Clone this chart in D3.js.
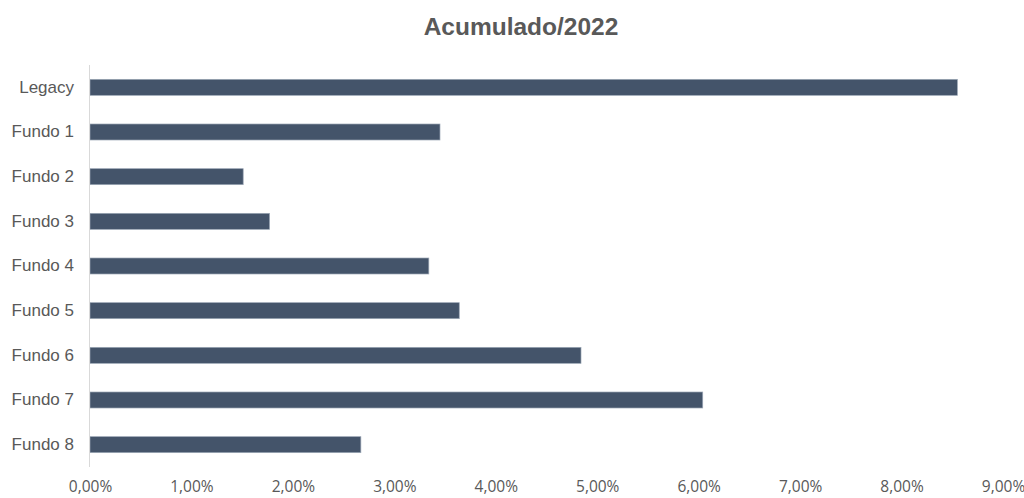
<!DOCTYPE html>
<html>
<head>
<meta charset="utf-8">
<script src="https://cdn.jsdelivr.net/npm/d3@7"></script>
<style>
  body { margin: 0; background: #fff; }
</style>
</head>
<body>
<div id="chart"></div>
<script>
// Acumulado/2022 - horizontal bars

const categories = ["Legacy", "Fundo 1", "Fundo 2", "Fundo 3", "Fundo 4", "Fundo 5", "Fundo 6", "Fundo 7", "Fundo 8"];
const values = [8.55, 3.45, 1.51, 1.77, 3.34, 3.64, 4.84, 6.04, 2.67];
const xTicks = [0, 1, 2, 3, 4, 5, 6, 7, 8, 9];

const width = 1024,
    height = 498,
    margin = ({ top: 65, right: 21, bottom: 31, left: 90 });

const svg = d3.select("#chart")
  .append("svg")
  .attr("width", width)
  .attr("height", height)
  .attr("viewBox", [0, 0, width, height]);

const x = d3.scaleLinear()
  .domain([0, 9])
  .range([margin.left, width - margin.right]);

const y = d3.scaleBand()
  .domain(categories)
  .range([margin.top, height - margin.bottom])
  .paddingInner(0.642)
  .paddingOuter(0.321);

// title
svg.append("text")
  .attr("x", 521)
  .attr("y", 35)
  .attr("text-anchor", "middle")
  .attr("font-family", "Liberation Sans, Arial, sans-serif")
  .attr("font-size", 24.5)
  .attr("font-weight", "bold")
  .attr("fill", "#595959")
  .text("Acumulado/2022");

// bars
svg.append("g")
  .selectAll("rect")
  .data(values)
  .join("rect")
  .attr("x", x(0))
  .attr("y", (d, i) => y(categories[i]))
  .attr("width", d => x(d) - x(0))
  .attr("height", y.bandwidth())
  .attr("fill", "#44546a")
  .attr("stroke", "#9aa5b4")
  .attr("stroke-width", 0.7);

// y axis (labels only, line drawn separately)
const yAxis = svg.append("g")
  .attr("transform", `translate(${x(0)},0)`)
  .call(d3.axisLeft(y).tickSize(0).tickPadding(16));
yAxis.select(".domain").remove();
yAxis.selectAll("text")
  .attr("font-family", "Liberation Sans, Arial, sans-serif")
  .attr("font-size", 17)
  .attr("fill", "#595959");

svg.append("line")
  .attr("x1", x(0) - 0.5)
  .attr("x2", x(0) - 0.5)
  .attr("y1", margin.top)
  .attr("y2", height - margin.bottom)
  .attr("stroke", "#d9d9d9")
  .attr("stroke-width", 1);

// x axis labels, no line
const xAxis = svg.append("g")
  .attr("transform", `translate(0,${height - margin.bottom})`)
  .call(d3.axisBottom(x).tickValues(xTicks).tickSize(0).tickPadding(14)
    .tickFormat(d => d.toFixed(2).replace(".", ",") + "%"));
xAxis.select(".domain").remove();
xAxis.selectAll("text")
  .attr("font-family", "Open Sans, Liberation Sans, sans-serif")
  .attr("font-size", 15.5)
  .attr("fill", "#595959");
</script>
</body>
</html>
